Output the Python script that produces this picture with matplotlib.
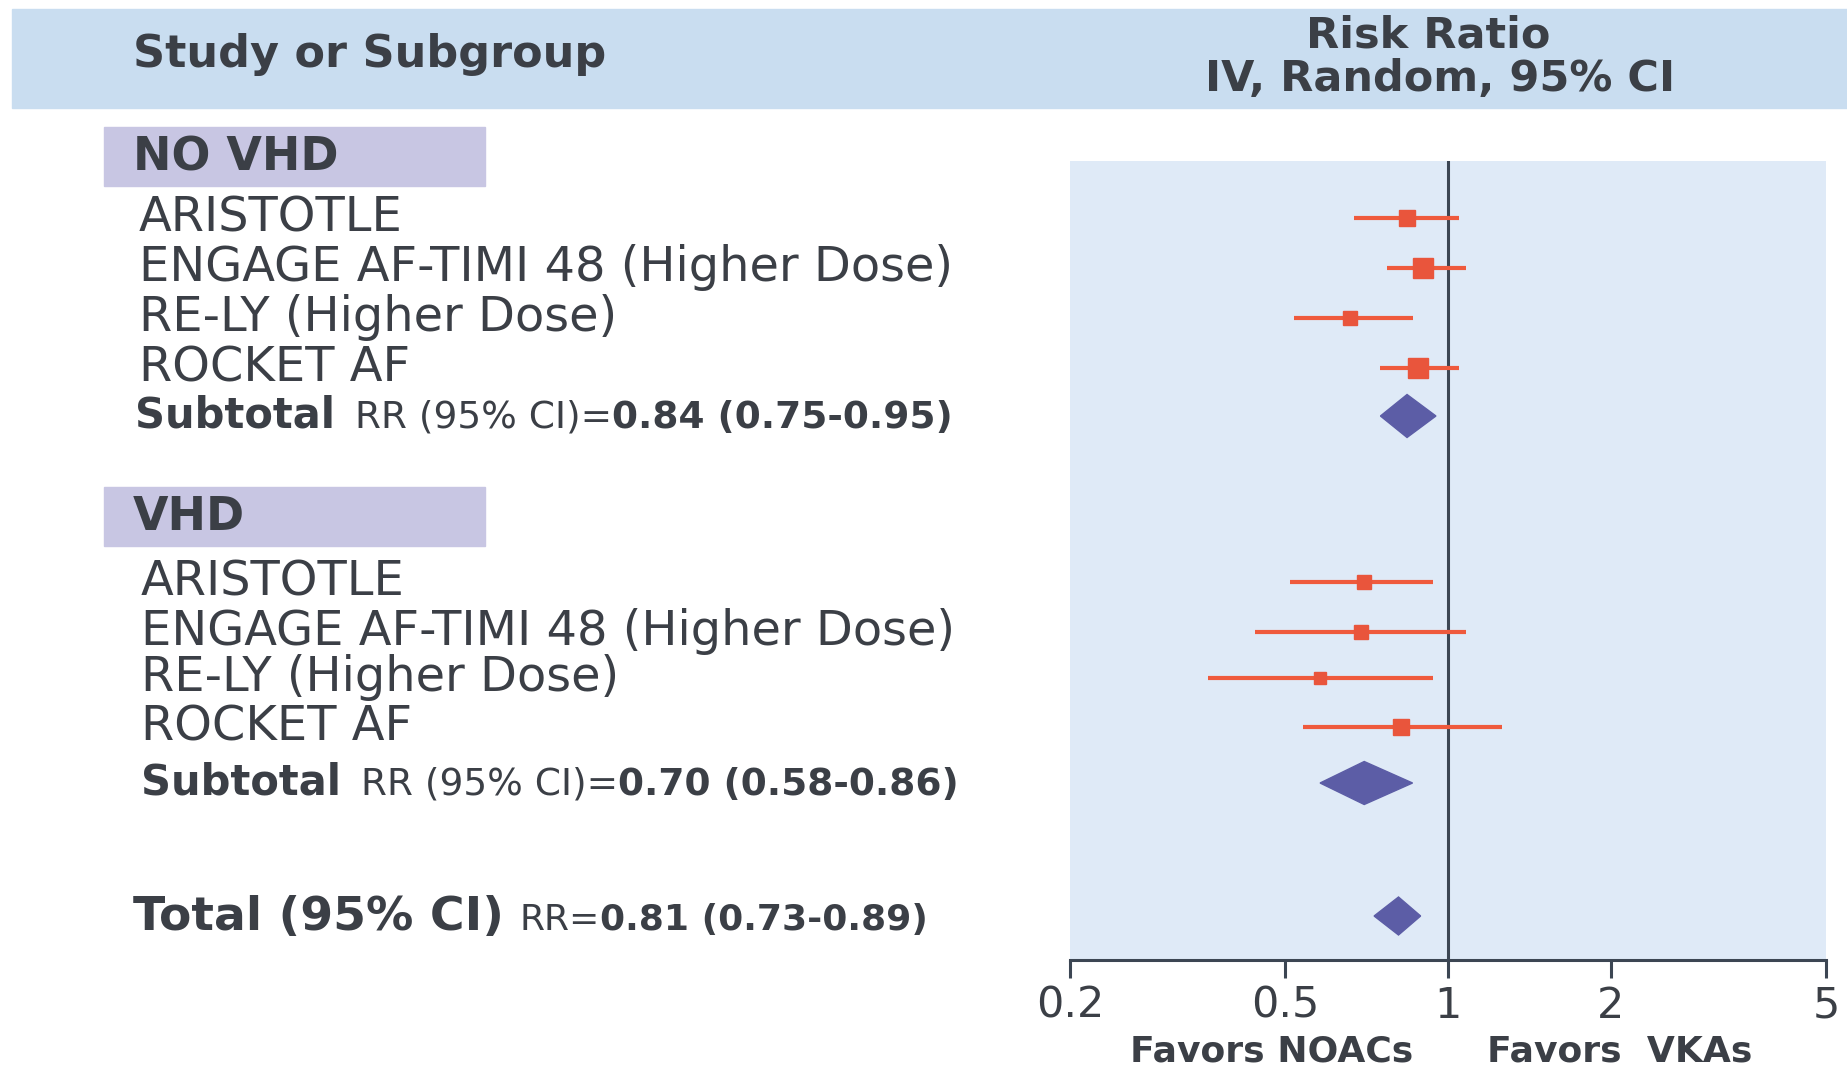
import matplotlib
matplotlib.use("Agg")
import matplotlib.pyplot as plt
from matplotlib.patches import Rectangle, Polygon
from matplotlib.ticker import FixedLocator, FixedFormatter, NullLocator
import matplotlib.transforms as mtransforms

plt.rcParams['font.family'] = ['DejaVu Sans']

# data
no_vhd_studies = ["ARISTOTLE", "ENGAGE AF-TIMI 48 (Higher Dose)", "RE-LY (Higher Dose)", "ROCKET AF"]
no_vhd_rr = [0.84, 0.90, 0.66, 0.88]
no_vhd_lo = [0.67, 0.77, 0.52, 0.75]
no_vhd_hi = [1.05, 1.08, 0.86, 1.05]

vhd_studies = ["ARISTOTLE", "ENGAGE AF-TIMI 48 (Higher Dose)", "RE-LY (Higher Dose)", "ROCKET AF"]
vhd_rr = [0.70, 0.69, 0.58, 0.82]
vhd_lo = [0.51, 0.44, 0.36, 0.54]
vhd_hi = [0.94, 1.08, 0.94, 1.26]

subtotal_no_vhd = (0.84, 0.75, 0.95)
subtotal_vhd = (0.70, 0.58, 0.86)
total = (0.81, 0.73, 0.89)

x_ticks = [0.2, 0.5, 1, 2, 5]
x_tick_labels = ["0.2", "0.5", "1", "2", "5"]

# layout (pixel rows of the 1847x1070 canvas)
W, H = 1847, 1070
no_vhd_y = [218, 268, 318, 368]
vhd_y = [582, 632, 678, 727]
sub_no_vhd_y = 416
sub_vhd_y = 783
total_y = 916
no_vhd_box_size = [11, 14, 10, 14]
vhd_box_size = [10, 10, 8, 12]

TXT = '#3b3f46'
CI_COL = '#ef5a3d'
DIA_COL = '#5c5da6'

fig = plt.figure(figsize=(W / 100, H / 100), dpi=100)

def fx(px):
    return px / W

def fy(py):
    return 1 - py / H

# header band
fig.patches.append(Rectangle((fx(12), fy(108)), 1, (108 - 9) / H, transform=fig.transFigure,
                             color='#c9ddf0', zorder=0))
fig.text(fx(133), fy(55), "Study or Subgroup", fontsize=32, weight='bold', color=TXT, va='center')
fig.text(fx(1428), fy(36), "Risk Ratio", fontsize=31, weight='bold', color=TXT, va='center', ha='center')
fig.text(fx(1440), fy(79), "IV, Random, 95% CI", fontsize=31, weight='bold', color=TXT, va='center', ha='center')

# group label boxes
for label, top in [("NO VHD", 127), ("VHD", 487)]:
    fig.patches.append(Rectangle((fx(104), fy(top + 59)), fx(485 - 104), 59 / H,
                                 transform=fig.transFigure, color='#c8c6e3', zorder=0))
    fig.text(fx(133), fy(top + 31), label, fontsize=33, weight='bold', color=TXT, va='center')

# forest plot axes
ax = fig.add_axes([fx(1070), fy(960), fx(1826 - 1070), (960 - 161) / H])
ax.set_facecolor('#dfeaf7')
ax.set_xscale('log')
ax.set_xlim(0.2, 5)
ax.set_ylim(960, 161)
for s in ['top', 'left', 'right']:
    ax.spines[s].set_visible(False)
ax.spines['bottom'].set_color('#3c4653')
ax.spines['bottom'].set_linewidth(2.2)
ax.xaxis.set_major_locator(FixedLocator(x_ticks))
ax.xaxis.set_major_formatter(FixedFormatter(x_tick_labels))
ax.xaxis.set_minor_locator(NullLocator())
ax.tick_params(axis='x', length=13, width=2.2, color='#3c4653', labelsize=31, labelcolor=TXT, pad=5)
ax.set_yticks([])
ax.axvline(1, color='#3c4653', lw=2.2, zorder=2)

for rr, lo, hi, y, ms in zip(no_vhd_rr + vhd_rr, no_vhd_lo + vhd_lo, no_vhd_hi + vhd_hi,
                              no_vhd_y + vhd_y, no_vhd_box_size + vhd_box_size):
    ax.plot([lo, hi], [y, y], color=CI_COL, lw=3, solid_capstyle='butt', zorder=3)
    ax.plot(rr, y, marker='s', ms=ms, color='#e9553c', mec='#e9553c', zorder=4)

def diamond(vals, y, h):
    rr, lo, hi = vals
    ax.add_patch(Polygon([(lo, y), (rr, y - h / 2), (hi, y), (rr, y + h / 2)],
                         closed=True, color=DIA_COL, zorder=4))

diamond(subtotal_no_vhd, sub_no_vhd_y, 43)
diamond(subtotal_vhd, sub_vhd_y, 43)
diamond(total, total_y, 38)

fig.text(fx(1272), fy(1052), "Favors NOACs", fontsize=26, weight='bold', color=TXT, ha='center', va='center')
fig.text(fx(1620), fy(1052), "Favors  VKAs", fontsize=26, weight='bold', color=TXT, ha='center', va='center')

# left-hand study labels, y in data coords
trans = mtransforms.blended_transform_factory(fig.transFigure, ax.transData)
for name, y in zip(no_vhd_studies, no_vhd_y):
    ax.text(fx(139), y, name, fontsize=34.5, color=TXT, va='center', transform=trans)
for name, y in zip(vhd_studies, vhd_y):
    ax.text(fx(141), y, name, fontsize=34.5, color=TXT, va='center', transform=trans)

def summary_line(x0, y, parts):
    # parts: (text, fontsize, weight, gap_px)
    fig.canvas.draw()
    r = fig.canvas.get_renderer()
    x = fx(x0)
    for s, size, weight, gap in parts:
        t = ax.text(x, y, s, fontsize=size, weight=weight, color=TXT, va='baseline', transform=trans)
        bb = t.get_window_extent(renderer=r)
        x = fx(bb.x1 + gap)

summary_line(135, sub_no_vhd_y + 12, [("Subtotal", 30, 'bold', 20),
                                      ("RR (95% CI)=", 27, 'normal', 0),
                                      ("%.2f (%.2f-%.2f)" % subtotal_no_vhd, 27, 'bold', 0)])
summary_line(141, sub_vhd_y + 12, [("Subtotal", 30, 'bold', 20),
                                   ("RR (95% CI)=", 27, 'normal', 0),
                                   ("%.2f (%.2f-%.2f)" % subtotal_vhd, 27, 'bold', 0)])
summary_line(133, total_y + 14, [("Total (95% CI)", 34, 'bold', 16),
                                 ("RR=", 26, 'normal', 0),
                                 ("%.2f (%.2f-%.2f)" % total, 26, 'bold', 0)])

fig.savefig("out.png", dpi=100)
